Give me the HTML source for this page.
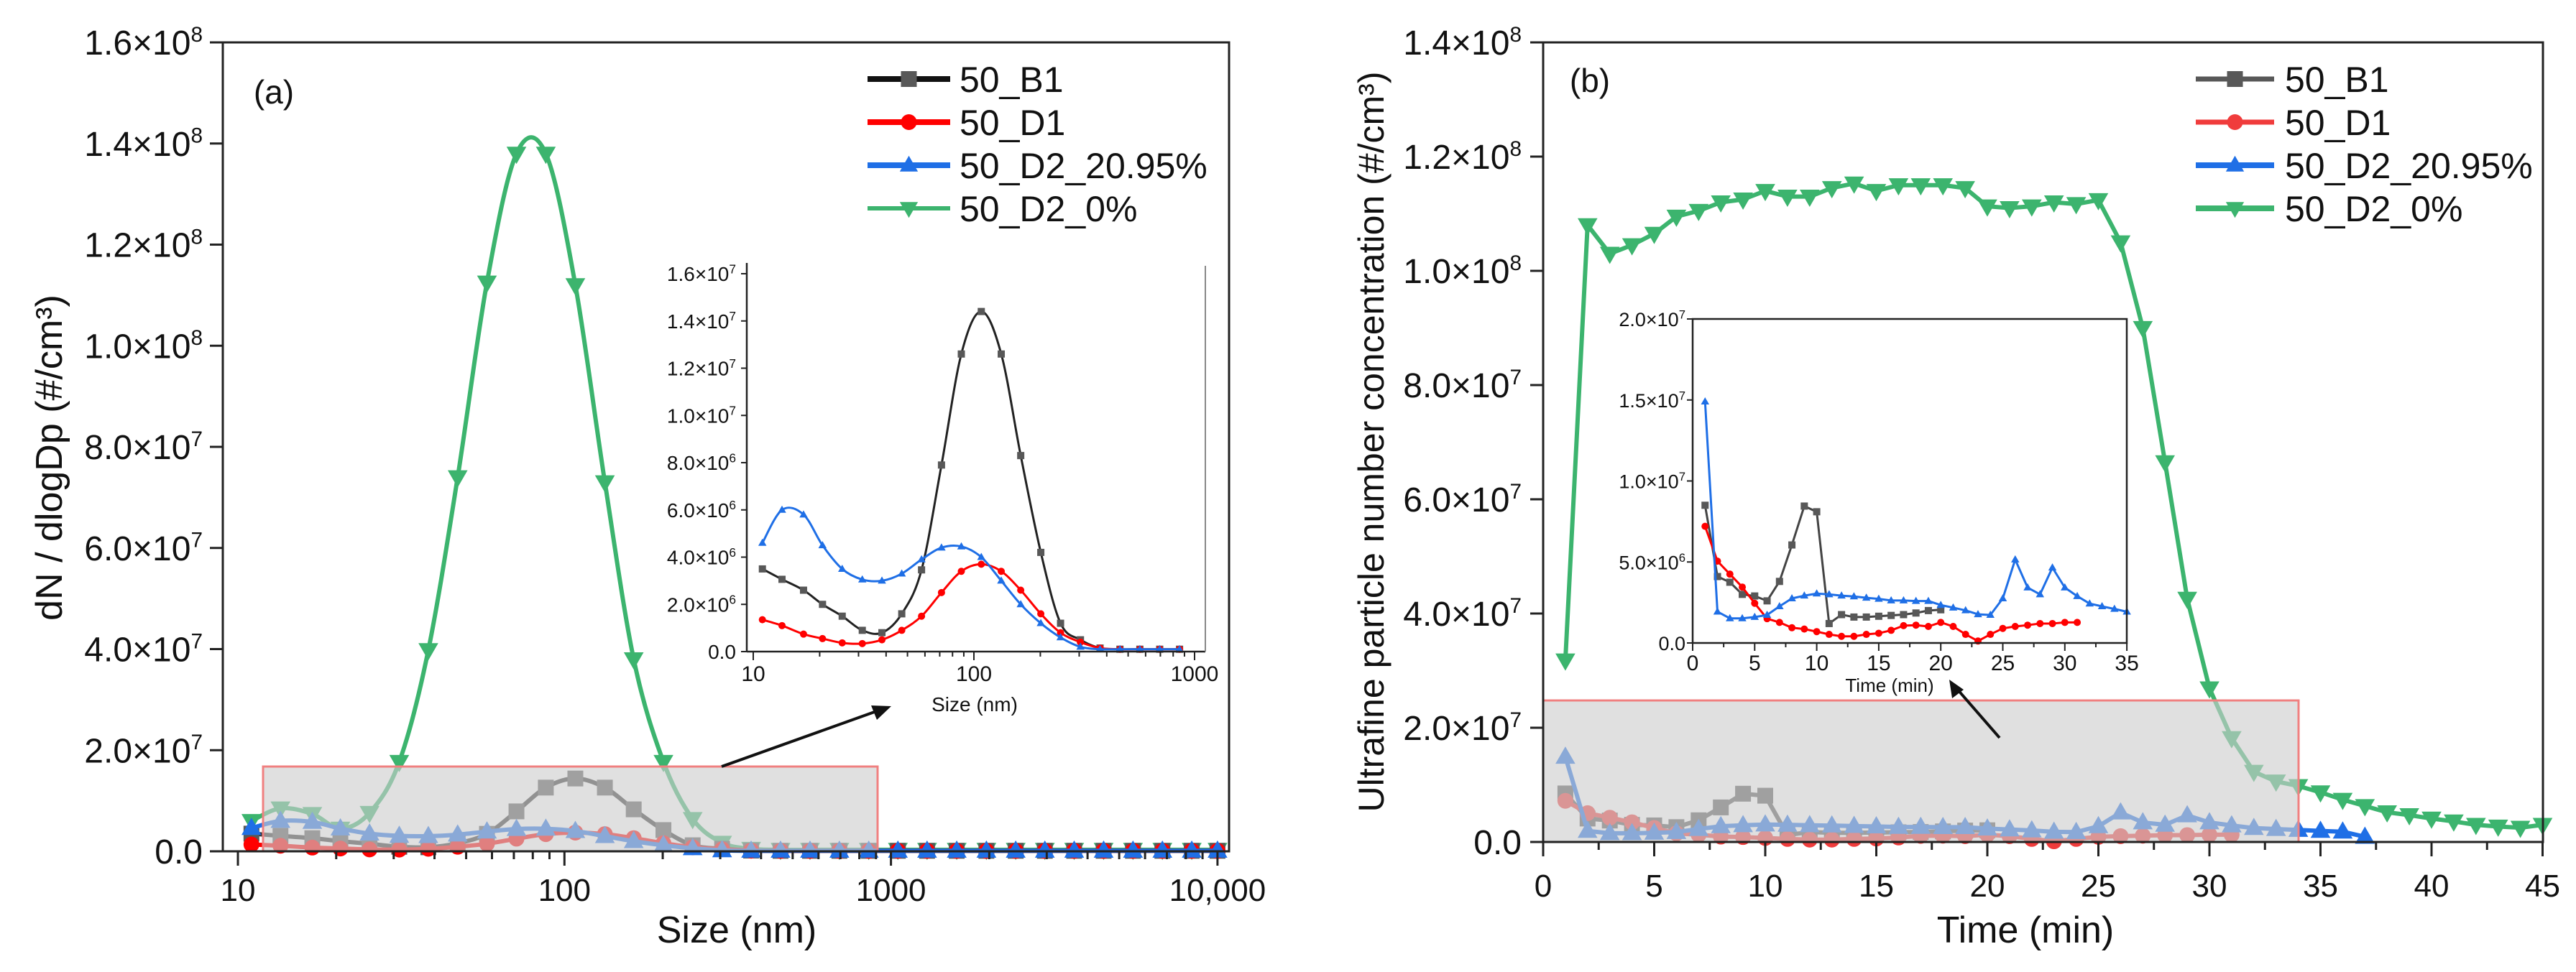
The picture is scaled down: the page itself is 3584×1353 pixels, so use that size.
<!DOCTYPE html>
<html><head><meta charset="utf-8"><style>
html,body{margin:0;padding:0;background:#fff;}
svg{display:block;font-family:"Liberation Sans",Arial,sans-serif;}
</style></head><body>
<svg id="fig" width="3584" height="1353" viewBox="0 0 3584 1353" xmlns="http://www.w3.org/2000/svg"></svg>
<script>
// ---------- DATA ----------
const sizes = [11.0,13.5,16.9,20.6,25.3,31.2,38.3,47.1,57.9,71.3,87.7,108,133,163,201,247,304,373,459,565,695,855,1050,1290,1590,1960,2410,2960,3640,4480,5510,6780,8340,10000];
const aB1 = [3.5,3.06,2.6,2.0,1.5,0.9,0.8,1.6,3.46,7.9,12.6,14.4,12.6,8.3,4.2,1.2,0.5,0.15,0.1,0.1,0.1,0.1,0.1,0.1,0.1,0.1,0.1,0.1,0.1,0.1,0.1,0.1,0.1,0.1];
const aD1 = [1.35,1.1,0.74,0.55,0.37,0.34,0.5,0.9,1.5,2.5,3.4,3.7,3.4,2.6,1.6,0.8,0.4,0.15,0.1,0.1,0.1,0.1,0.1,0.1,0.1,0.1,0.1,0.1,0.1,0.1,0.1,0.1,0.1,0.1];
const aD2a = [4.6,6.0,5.8,4.5,3.5,3.05,3.0,3.3,3.9,4.4,4.45,4.0,3.0,2.0,1.2,0.6,0.2,0.1,0.1,0.1,0.1,0.1,0.1,0.1,0.1,0.1,0.1,0.1,0.1,0.1,0.1,0.1,0.1,0.1];
const aD2b = [6.0,8.5,7.4,4.5,7.6,17.7,39.8,74,112.5,138,138,112,73,38,17.7,6.4,1.7,0.5,0.3,0.3,0.3,0.3,0.3,0.3,0.3,0.3,0.3,0.3,0.3,0.3,0.3,0.3,0.3,0.3];
const yTicksA = [0,2e7,4e7,6e7,8e7,1e8,1.2e8,1.4e8,1.6e8];
const yTicksAin = [0,2e6,4e6,6e6,8e6,1e7,1.2e7,1.4e7,1.6e7];
const xTicksA = [10,100,1000,10000];
const xTickLabelsA = ["10","100","1000","10,000"];

const tB1 = [1,2,3,4,5,6,7,8,9,10,11,12,13,14,15,16,17,18,19,20];
const bB1 = [8.5,4.1,3.75,3.0,2.9,2.6,3.8,6.05,8.45,8.1,1.2,1.75,1.6,1.6,1.65,1.7,1.75,1.85,2.0,2.05];
const tD1 = [1,2,3,4,5,6,7,8,9,10,11,12,13,14,15,16,17,18,19,20,21,22,23,24,25,26,27,28,29,30,31];
const bD1 = [7.2,5.05,4.25,3.45,2.45,1.5,1.27,0.94,0.86,0.7,0.53,0.41,0.41,0.53,0.6,0.78,1.07,1.1,1.02,1.27,1.02,0.53,0.12,0.53,0.9,1.02,1.1,1.2,1.2,1.27,1.27];
const tD2a = [1,2,3,4,5,6,7,8,9,10,11,12,13,14,15,16,17,18,19,20,21,22,23,24,25,26,27,28,29,30,31,32,33,34,35,36,37];
const bD2a = [14.9,1.93,1.52,1.52,1.6,1.73,2.26,2.75,2.92,3.05,3.0,2.92,2.87,2.79,2.72,2.62,2.62,2.59,2.59,2.34,2.18,2.01,1.77,1.73,2.75,5.15,3.42,3.0,4.65,3.42,2.89,2.43,2.26,2.1,1.93,1.8,0.9];
const tD2b = [1,2,3,4,5,6,7,8,9,10,11,12,13,14,15,16,17,18,19,20,21,22,23,24,25,26,27,28,29,30,31,32,33,34,35,36,37,38,39,40,41,42,43,44,45];
const bD2b = [31.8,108,103,104.5,106.5,109.5,110.5,112,112.5,114,113,113,114.5,115.3,114,115,115,115,114.5,111.3,111,111.3,112,111.7,112.4,105,90,66.5,42.6,26.9,18.2,12.3,10.6,9.8,8.7,7.4,6.3,5.2,4.7,4.1,3.6,3.0,2.7,2.5,3.0];
const yTicksB = [0,2e7,4e7,6e7,8e7,1e8,1.2e8,1.4e8];
const yTicksBin = [0,5e6,1e7,1.5e7,2e7];
const xTicksB = [0,5,10,15,20,25,30,35,40,45];
const xTicksBin = [0,5,10,15,20,25,30,35];

// ---------- HELPERS ----------
const NS = "http://www.w3.org/2000/svg";
const svg = document.getElementById('fig');
function mk(tag, attrs, parent){
  const e = document.createElementNS(NS, tag);
  for (const k in attrs) e.setAttribute(k, attrs[k]);
  (parent||svg).appendChild(e);
  return e;
}
function sci(v, dec){
  if (v===0) return {m:"0.0", e:null};
  const e = Math.floor(Math.log10(v)+1e-9);
  return {m:(v/Math.pow(10,e)).toFixed(1), e:e};
}
function sciLabel(g, v, x, y, fs, name){
  const s = sci(v);
  const t = mk('text', {x:x, y:y, 'font-size':fs, 'text-anchor':'end', fill:'#111'}, g);
  
  
  if (s.e===null){ t.textContent = s.m; return; }
  const a = mk('tspan', {}, t); a.textContent = s.m + "×10";
  const b = mk('tspan', {dy: -fs*0.38, 'font-size': fs*0.62}, t); b.textContent = String(s.e);
}
function marker(g, shape, x, y, r, fill){
  let e;
  if (shape==='sq') e = mk('rect', {x:x-r, y:y-r, width:2*r, height:2*r, fill:fill}, g);
  else if (shape==='ci') e = mk('circle', {cx:x, cy:y, r:r, fill:fill}, g);
  else if (shape==='up') e = mk('polygon', {points:`${x},${y-r*1.2} ${x-r*1.15},${y+r*0.8} ${x+r*1.15},${y+r*0.8}`, fill:fill}, g);
  else e = mk('polygon', {points:`${x},${y+r*1.2} ${x-r*1.15},${y-r*0.8} ${x+r*1.15},${y-r*0.8}`, fill:fill}, g);
  return e;
}
function smoothPath(pts){
  let d = `M${pts[0][0]},${pts[0][1]}`;
  for (let i=0;i<pts.length-1;i++){
    const p0=pts[Math.max(0,i-1)], p1=pts[i], p2=pts[i+1], p3=pts[Math.min(pts.length-1,i+2)];
    const c1x=p1[0]+(p2[0]-p0[0])/6, c1y=p1[1]+(p2[1]-p0[1])/6;
    const c2x=p2[0]-(p3[0]-p1[0])/6, c2y=p2[1]-(p3[1]-p1[1])/6;
    d += ` C${c1x},${c1y} ${c2x},${c2y} ${p2[0]},${p2[1]}`;
  }
  return d;
}
function linePath(pts){ return pts.map((p,i)=>(i?'L':'M')+p[0]+','+p[1]).join(' '); }
function series(g, xs, vs, X, Y, scale, color, lw, shape, r, mcol, smooth, name, maxX){
  const sg = mk('g', {}, g);
  
  
  const pts = [];
  for (let i=0;i<xs.length;i++){ if (maxX!==undefined && xs[i]>maxX) break; pts.push([X(xs[i]), Y(vs[i]*scale)]); }
  const p = mk('path', {d: smooth?smoothPath(pts):linePath(pts), fill:'none', stroke:color, 'stroke-width':lw, 'stroke-linejoin':'round'}, sg);
  
  
  pts.forEach(q=>{
    const m = marker(sg, shape, q[0], q[1], r, mcol);
    
    
  });
}
function txt(g, s, x, y, fs, anchor, name, extra){
  const t = mk('text', Object.assign({x:x, y:y, 'font-size':fs, 'text-anchor':anchor||'start', fill:'#111'}, extra||{}), g);
  
  
  t.textContent = s;
  return t;
}
function legend(g, x0, x1, xt, rows, name){
  const lg = mk('g', {}, g);
  
  
  rows.forEach((r,i)=>{
    const y = 110 + i*60;
    const e = mk('g', {}, lg);
    
    
    mk('line', {x1:x0, y1:y, x2:x1, y2:y, stroke:r.c, 'stroke-width':r.w}, e);
    marker(e, r.s, (x0+x1)/2, y, 11, r.m);
    txt(e, r.t, xt, y+18, 50, 'start', 'legend-label');
  });
}
const BLK='#222', GRY='#585858', RED='#ff0000', BLU='#1f6fe6', GRN='#3cb46e';

// ---------- PANEL A ----------
const ga = mk('g', {});  
const AX = s => 331 + (Math.log10(s)-1)*454.3;
const AY = v => 1185 - v/1.6e8*1126;
series(ga, sizes, aD2b, AX, AY, 1e6, GRN, 6, 'dn', 12, GRN, true, 'series-a-50-d2-0');
series(ga, sizes, aB1, AX, AY, 1e6, '#333', 6, 'sq', 11, GRY, true, 'series-a-50-b1');
series(ga, sizes, aD1, AX, AY, 1e6, RED, 6, 'ci', 11, RED, true, 'series-a-50-d1');
series(ga, sizes, aD2a, AX, AY, 1e6, BLU, 6, 'up', 12, BLU, true, 'series-a-50-d2-20');
let e = mk('rect', {x:366, y:1067, width:855, height:118, fill:'rgba(205,205,205,0.62)', stroke:'#f08080', 'stroke-width':3}, ga);
 
// axes frame
e = mk('rect', {x:310, y:59, width:1400, height:1126, fill:'none', stroke:'#222', 'stroke-width':3}, ga);
 
yTicksA.forEach(v=>{
  mk('line', {x1:292, x2:310, y1:AY(v), y2:AY(v), stroke:'#222', 'stroke-width':3}, ga);
  sciLabel(ga, v, 282, AY(v)+17, 48, 'y-tick-label-a');
});
for (let d=1; d<=1000; d*=10) for (let k=2;k<=9;k++){ const x=AX(10*d*k/1); if (d*k*10<10000) mk('line',{x1:x,x2:x,y1:1185,y2:1196,stroke:'#222','stroke-width':3},ga); }
xTicksA.forEach((v,i)=>{
  mk('line', {x1:AX(v), x2:AX(v), y1:1185, y2:1205, stroke:'#222', 'stroke-width':3}, ga);
  txt(ga, xTickLabelsA[i], AX(v), 1254, 44, 'middle', 'x-tick-label-a');
});
txt(ga, 'Size (nm)', 1025, 1312, 52, 'middle', 'x-axis-title-a');
txt(ga, 'dN / dlogDp (#/cm³)', 0, 0, 52, 'middle', 'y-axis-title-a', {transform:'translate(86,637) rotate(-90)'});
txt(ga, '(a)', 381, 144, 46, 'middle', 'panel-label-a');
legend(ga, 1207, 1322, 1335, [
  {t:'50_B1', c:'#111', w:8, s:'sq', m:GRY},
  {t:'50_D1', c:RED, w:8, s:'ci', m:RED},
  {t:'50_D2_20.95%', c:BLU, w:8, s:'up', m:BLU},
  {t:'50_D2_0%', c:GRN, w:6, s:'dn', m:GRN}], 'legend-a');
e = mk('line', {x1:1004, y1:1067, x2:1225, y2:988, stroke:'#111', 'stroke-width':4}, ga);
 
mk('polygon', {points:'1240,983 1212,982 1220,1002', fill:'#111'}, ga);

// inset a
const gia = mk('g', {}, ga);  
const IAX = s => 1048 + (Math.log10(s)-1)*307;
const IAY = v => 907 - v/1.6e7*526;
series(gia, sizes, aB1, IAX, IAY, 1e6, '#222', 3, 'sq', 5, GRY, true, 'inset-a-50-b1', 1000);
series(gia, sizes, aD1, IAX, IAY, 1e6, RED, 3, 'ci', 5, RED, true, 'inset-a-50-d1', 1000);
series(gia, sizes, aD2a, IAX, IAY, 1e6, BLU, 3, 'up', 5, BLU, true, 'inset-a-50-d2-20', 1000);
mk('line', {x1:1039, y1:366, x2:1039, y2:907, stroke:'#222', 'stroke-width':2.5}, gia);
mk('line', {x1:1039, y1:907, x2:1677, y2:907, stroke:'#222', 'stroke-width':2.5}, gia);
mk('line', {x1:1677, y1:370, x2:1677, y2:907, stroke:'#888', 'stroke-width':2}, gia);
yTicksAin.forEach(v=>{
  mk('line', {x1:1031, x2:1039, y1:IAY(v), y2:IAY(v), stroke:'#222', 'stroke-width':2}, gia);
  sciLabel(gia, v, 1024, IAY(v)+10, 28, 'inset-a-y-tick-label');
});
[10,100,1000].forEach(v=>{
  mk('line', {x1:IAX(v), x2:IAX(v), y1:907, y2:919, stroke:'#222', 'stroke-width':2}, gia);
  txt(gia, String(v), IAX(v), 948, 30, 'middle', 'inset-a-x-tick-label');
});
for (let d=10; d<1000; d*=10) for (let k=2;k<=9;k++) mk('line',{x1:IAX(d*k),x2:IAX(d*k),y1:907,y2:914,stroke:'#222','stroke-width':2},gia);
txt(gia, 'Size (nm)', 1356, 990, 28, 'middle', 'inset-a-x-axis-title');

// ---------- PANEL B ----------
const gb = mk('g', {});  
const BX = t => 2147 + t*30.9;
const BY = v => 1172 - v/1.4e8*1113;
series(gb, tD2b, bD2b, BX, BY, 1e6, GRN, 6, 'dn', 12, GRN, false, 'series-b-50-d2-0');
series(gb, tB1, bB1, BX, BY, 1e6, GRY, 6, 'sq', 11, GRY, false, 'series-b-50-b1');
series(gb, tD1, bD1, BX, BY, 1e6, '#f03c3c', 6, 'ci', 11, '#f03c3c', false, 'series-b-50-d1');
series(gb, tD2a, bD2a, BX, BY, 1e6, BLU, 6, 'up', 12, BLU, false, 'series-b-50-d2-20');
e = mk('rect', {x:2147, y:975, width:1051, height:197, fill:'rgba(205,205,205,0.62)', stroke:'#f08080', 'stroke-width':3}, gb);
 
e = mk('rect', {x:2147, y:59, width:1391, height:1113, fill:'none', stroke:'#222', 'stroke-width':3}, gb);
 
yTicksB.forEach(v=>{
  mk('line', {x1:2129, x2:2147, y1:BY(v), y2:BY(v), stroke:'#222', 'stroke-width':3}, gb);
  sciLabel(gb, v, 2117, BY(v)+17, 48, 'y-tick-label-b');
});
xTicksB.forEach(v=>{
  mk('line', {x1:BX(v), x2:BX(v), y1:1172, y2:1192, stroke:'#222', 'stroke-width':3}, gb);
  if (v<45) mk('line', {x1:BX(v+2.5), x2:BX(v+2.5), y1:1172, y2:1183, stroke:'#222', 'stroke-width':3}, gb);
  txt(gb, String(v), BX(v), 1248, 44, 'middle', 'x-tick-label-b');
});
txt(gb, 'Time (min)', 2818, 1312, 52, 'middle', 'x-axis-title-b');
txt(gb, 'Ultrafine particle number concentration (#/cm³)', 0, 0, 50, 'middle', 'y-axis-title-b', {transform:'translate(1925,615) rotate(-90)'});
txt(gb, '(b)', 2212, 128, 46, 'middle', 'panel-label-b');
legend(gb, 3055, 3164, 3179, [
  {t:'50_B1', c:GRY, w:7, s:'sq', m:GRY},
  {t:'50_D1', c:'#f03c3c', w:7, s:'ci', m:'#f03c3c'},
  {t:'50_D2_20.95%', c:BLU, w:8, s:'up', m:BLU},
  {t:'50_D2_0%', c:GRN, w:8, s:'dn', m:GRN}], 'legend-b');
e = mk('line', {x1:2782, y1:1027, x2:2722, y2:958, stroke:'#111', 'stroke-width':4}, gb);
 
mk('polygon', {points:'2712,946 2716,972 2732,960', fill:'#111'}, gb);

// inset b
const gib = mk('g', {}, gb);  
mk('rect', {x:2355, y:444, width:604, height:451, fill:'#fff', stroke:'none'}, gib);
const IBX = t => 2355 + t*17.26;
const IBY = v => 895 - v/2e7*451;
series(gib, tB1, bB1, IBX, IBY, 1e6, '#444', 3, 'sq', 5, GRY, false, 'inset-b-50-b1');
series(gib, tD1, bD1, IBX, IBY, 1e6, RED, 3, 'ci', 5, RED, false, 'inset-b-50-d1');
series(gib, tD2a, bD2a, IBX, IBY, 1e6, BLU, 3, 'up', 5, BLU, false, 'inset-b-50-d2-20', 35);
mk('rect', {x:2355, y:444, width:604, height:451, fill:'none', stroke:'#222', 'stroke-width':2.5}, gib);
yTicksBin.forEach(v=>{
  mk('line', {x1:2347, x2:2355, y1:IBY(v), y2:IBY(v), stroke:'#222', 'stroke-width':2}, gib);
  sciLabel(gib, v, 2345, IBY(v)+10, 27, 'inset-b-y-tick-label');
});
xTicksBin.forEach(v=>{
  mk('line', {x1:IBX(v), x2:IBX(v), y1:895, y2:906, stroke:'#222', 'stroke-width':2}, gib);
  if (v<35) mk('line', {x1:IBX(v+2.5), x2:IBX(v+2.5), y1:895, y2:901, stroke:'#222', 'stroke-width':2}, gib);
  txt(gib, String(v), IBX(v), 933, 30, 'middle', 'inset-b-x-tick-label');
});
txt(gib, 'Time (min)', 2629, 963, 26, 'middle', 'inset-b-x-axis-title');
</script>
</body></html>
